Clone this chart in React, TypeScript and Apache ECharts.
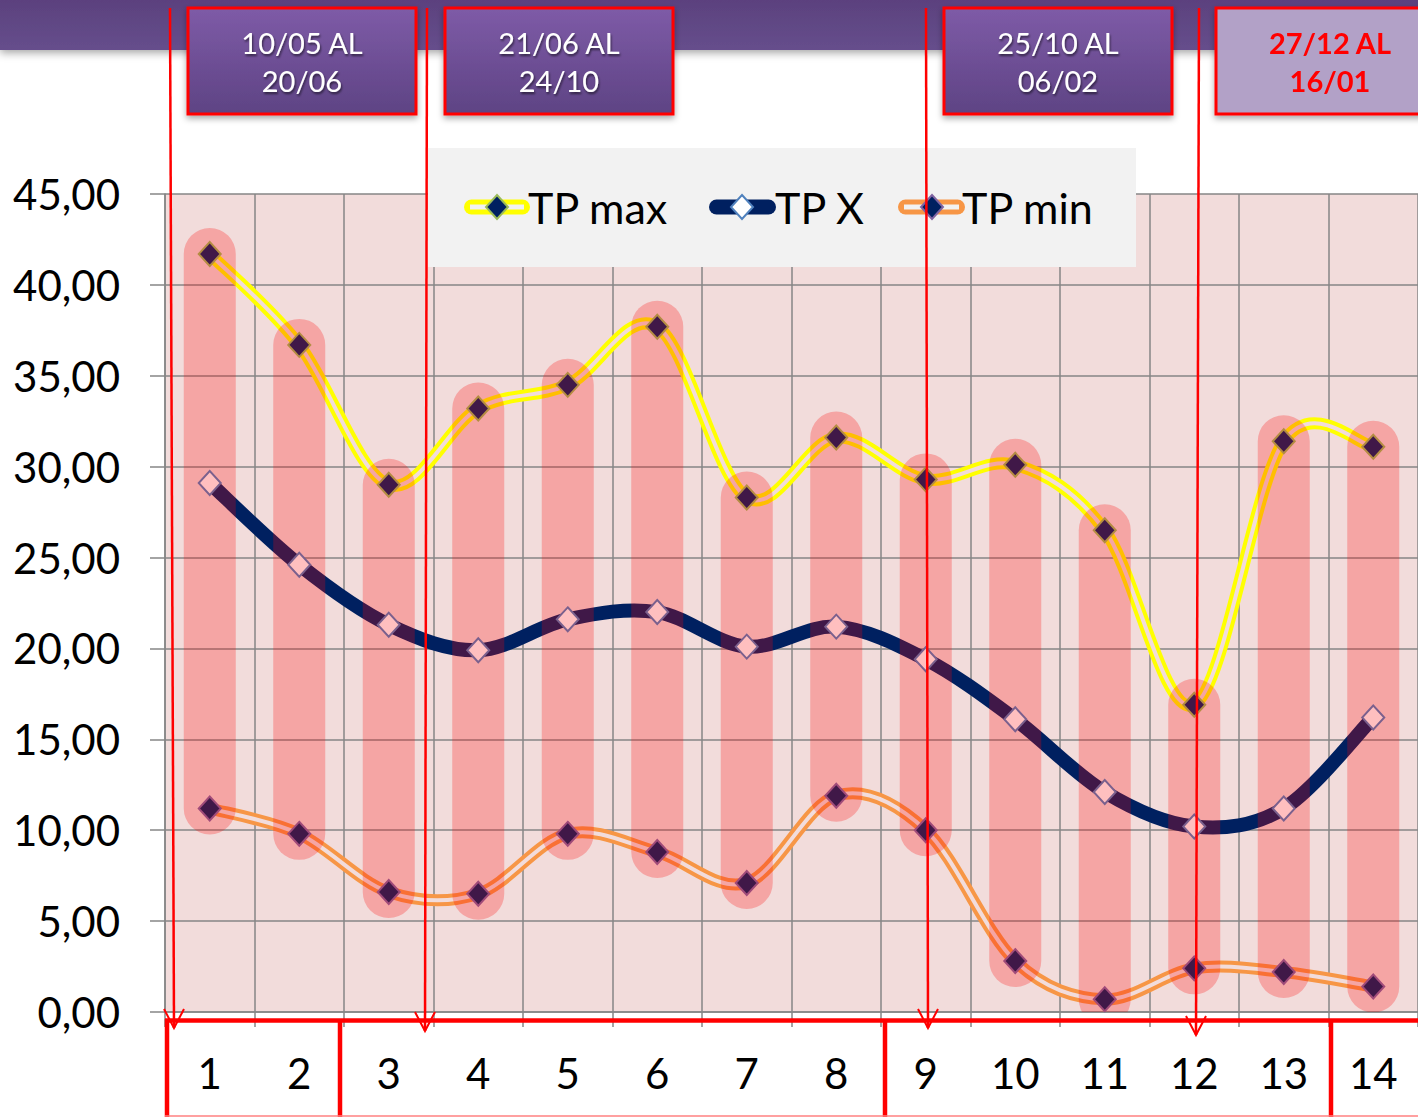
import React, { useEffect, useRef } from 'react';
import * as echarts from 'echarts';

const categories = ['1', '2', '3', '4', '5', '6', '7', '8', '9', '10', '11', '12', '13', '14'];
const tpMax = [41.7, 36.7, 29.0, 33.2, 34.5, 37.7, 28.3, 31.6, 29.3, 30.1, 26.5, 16.9, 31.4, 31.1];
const tpX = [29.1, 24.6, 21.3, 19.9, 21.6, 22.0, 20.1, 21.2, 19.4, 16.1, 12.1, 10.2, 11.2, 16.2];
const tpMin = [11.2, 9.8, 6.6, 6.5, 9.8, 8.8, 7.1, 11.9, 10.0, 2.8, 0.7, 2.4, 2.2, 1.4];
const seriesNames = ['TP max', 'TP X', 'TP min'];
const periodLabels = [
  ['10/05 AL', '20/06'],
  ['21/06 AL', '24/10'],
  ['25/10 AL', '06/02'],
  ['27/12 AL', '16/01'],
];

const FONT = 'Lato, "Open Sans", sans-serif';
const BG = '#f2dcdb';
const GRID = '#868686';

function diamond(cx: number, cy: number, fill: string, stroke: string, z: number) {
  return {
    type: 'polygon',
    z,
    shape: { points: [[cx, cy - 12], [cx + 11, cy], [cx, cy + 12], [cx - 11, cy]] },
    style: { fill, stroke, lineWidth: 2 },
  };
}

function buildGraphic() {
  const els: any[] = [];
  els.push({
    type: 'rect', z: 40,
    shape: { x: 0, y: 0, width: 1418, height: 50 },
    style: {
      fill: new echarts.graphic.LinearGradient(0, 0, 0, 1, [
        { offset: 0, color: '#5b417e' },
        { offset: 1, color: '#664e8c' },
      ]),
      shadowBlur: 8, shadowColor: 'rgba(0,0,0,0.35)', shadowOffsetY: 3,
    },
  });
  const boxes = [
    { x: 188, w: 228, cx: 302 },
    { x: 445, w: 228, cx: 559 },
    { x: 944, w: 228, cx: 1058 },
    { x: 1216, w: 220, cx: 1330 },
  ];
  boxes.forEach((b, i) => {
    const last = i === 3;
    els.push({
      type: 'rect', z: 60,
      shape: { x: b.x, y: 8, width: b.w, height: 106 },
      style: {
        fill: last
          ? '#b2a1c7'
          : new echarts.graphic.LinearGradient(0, 0, 0, 1, [
              { offset: 0, color: '#7e5ba7' },
              { offset: 1, color: '#5e4384' },
            ]),
        stroke: '#ff0000', lineWidth: 3,
        shadowBlur: 6, shadowColor: 'rgba(0,0,0,0.35)', shadowOffsetY: 3,
      },
    });
    periodLabels[i].forEach((t, k) => {
      els.push({
        type: 'text', z: 61,
        style: {
          text: t, x: b.cx, y: 42 + k * 38,
          align: 'center', verticalAlign: 'middle',
          font: `${last ? 'bold ' : ''}29px ${FONT}`,
          fill: last ? '#ff0000' : '#ffffff',
          textShadowColor: last ? 'rgba(0,0,0,0)' : 'rgba(0,0,0,0.55)',
          textShadowOffsetX: 1, textShadowOffsetY: 2, textShadowBlur: 2,
        },
      });
    });
  });

  // legend
  els.push({
    type: 'rect', z: 50,
    shape: { x: 428, y: 148, width: 708, height: 119 },
    style: { fill: '#f2f2f2' },
  });
  const ly = 207;
  els.push({ type: 'line', z: 51, shape: { x1: 471.5, y1: ly, x2: 522.5, y2: ly }, style: { stroke: '#ffff00', lineWidth: 15, lineCap: 'round' } });
  els.push({ type: 'line', z: 52, shape: { x1: 470, y1: ly, x2: 524, y2: ly }, style: { stroke: '#f2f2f2', lineWidth: 5 } });
  els.push(diamond(497, ly, '#002060', '#9bbb59', 53));
  els.push({ type: 'line', z: 51, shape: { x1: 716.5, y1: ly, x2: 768.5, y2: ly }, style: { stroke: '#002060', lineWidth: 15, lineCap: 'round' } });
  els.push(diamond(742, ly, '#ffffff', '#4f81bd', 53));
  els.push({ type: 'line', z: 51, shape: { x1: 905.5, y1: ly, x2: 957.5, y2: ly }, style: { stroke: '#f79646', lineWidth: 15, lineCap: 'round' } });
  els.push({ type: 'line', z: 52, shape: { x1: 904, y1: ly, x2: 959, y2: ly }, style: { stroke: '#f2f2f2', lineWidth: 5 } });
  els.push(diamond(932, ly, '#002060', '#8064a2', 53));
  const textX = [528, 775, 962];
  seriesNames.forEach((n, i) => {
    els.push({
      type: 'text', z: 54,
      style: { text: n, x: textX[i], y: ly, align: 'left', verticalAlign: 'middle', font: `43px ${FONT}`, fill: '#000000' },
    });
  });

  // red arrows
  const arrows = [
    { x1: 170, x2: 174, tip: 1028 },
    { x1: 427, x2: 425, tip: 1031 },
    { x1: 926, x2: 928, tip: 1028 },
    { x1: 1199, x2: 1196, tip: 1035 },
  ];
  arrows.forEach((a) => {
    els.push({ type: 'line', z: 100, shape: { x1: a.x1, y1: 8, x2: a.x2, y2: a.tip }, style: { stroke: '#ff0000', lineWidth: 2.5 } });
    els.push({
      type: 'polyline', z: 100,
      shape: { points: [[a.x2 - 10, a.tip - 19], [a.x2, a.tip], [a.x2 + 10, a.tip - 19]] },
      style: { stroke: '#ff0000', lineWidth: 2, fill: 'none' },
    });
  });

  els.push({ type: 'line', z: 95, shape: { x1: 165, y1: 1020.5, x2: 1418, y2: 1020.5 }, style: { stroke: '#ff0000', lineWidth: 4.5 } });
  [167, 340, 885, 1331].forEach((x) => {
    els.push({ type: 'line', z: 95, shape: { x1: x, y1: 1019, x2: x, y2: 1117 }, style: { stroke: '#ff0000', lineWidth: 4.5 } });
  });
  els.push({ type: 'line', z: 95, shape: { x1: 165, y1: 1116, x2: 1418, y2: 1116 }, style: { stroke: '#ff8080', lineWidth: 1.5 } });
  return els;
}

const barData = categories.map((_, i) => [i, tpMin[i], tpMax[i]]);

// Catmull-Rom style smoothing (like spreadsheet smoothed lines), built from pixel coords given by the axes
function smoothPath(pts: number[][]): string {
  let d = `M${pts[0][0]},${pts[0][1]}`;
  for (let i = 0; i < pts.length - 1; i++) {
    const p0 = pts[i - 1] || pts[i];
    const p1 = pts[i];
    const p2 = pts[i + 1];
    const p3 = pts[i + 2] || p2;
    const c1x = p1[0] + (p2[0] - p0[0]) / 6;
    const c1y = p1[1] + (p2[1] - p0[1]) / 6;
    const c2x = p2[0] - (p3[0] - p1[0]) / 6;
    const c2y = p2[1] - (p3[1] - p1[1]) / 6;
    d += ` C${c1x},${c1y} ${c2x},${c2y} ${p2[0]},${p2[1]}`;
  }
  return d;
}

function curveSeries(name: string, values: number[], layers: { color: string; width: number }[], z: number) {
  return {
    name, type: 'custom', z, silent: true,
    data: values.map((v, i) => [i, v]),
    encode: { x: 0, y: 1 },
    renderItem: (params: any, api: any) => {
      if (params.dataIndex !== 0) return null;
      const pts = values.map((v, i) => api.coord([i, v]));
      const d = smoothPath(pts);
      return {
        type: 'group',
        children: layers.map((l) => ({
          type: 'path',
          shape: { pathData: d },
          style: { fill: 'none', stroke: l.color, lineWidth: l.width, lineJoin: 'round', lineCap: 'round' },
        })),
      };
    },
  };
}

function markerSeries(name: string, values: number[], fill: string, border: string, z: number) {
  return {
    name, type: 'line', data: values, z, silent: true,
    symbol: 'diamond', symbolSize: [22, 24],
    lineStyle: { opacity: 0, width: 0 },
    itemStyle: { color: fill, borderColor: border, borderWidth: 2 },
  };
}

function makeOption(): any {
  return {
    animation: false,
    backgroundColor: '#ffffff',
    grid: {
      left: 165, right: 0, top: 194, bottom: 105,
      show: true, backgroundColor: BG, borderWidth: 0,
    },
    xAxis: {
      type: 'category',
      data: categories,
      boundaryGap: true,
      axisLine: { show: true, lineStyle: { color: GRID, width: 1.5 } },
      axisTick: { show: true, length: 15, interval: 0, lineStyle: { color: GRID, width: 1.5 } },
      splitLine: { show: true, interval: 0, lineStyle: { color: GRID, width: 1.5 } },
      axisLabel: { fontSize: 42, fontFamily: FONT, color: '#000000', margin: 40, interval: 0 },
    },
    yAxis: {
      type: 'value',
      min: 0, max: 45, interval: 5,
      axisLine: { show: true, lineStyle: { color: GRID, width: 1.5 } },
      axisTick: { show: true, length: 15, lineStyle: { color: GRID, width: 1.5 } },
      splitLine: { show: true, lineStyle: { color: GRID, width: 1.5 } },
      axisLabel: {
        fontSize: 42, fontFamily: FONT, color: '#000000', margin: 45,
        formatter: (v: number) => v.toFixed(2).replace('.', ','),
      },
    },
    series: [
      curveSeries(seriesNames[0], tpMax, [{ color: '#ffff00', width: 12 }, { color: BG, width: 4 }], 2),
      curveSeries(seriesNames[1], tpX, [{ color: '#002060', width: 14 }], 2),
      curveSeries(seriesNames[2], tpMin, [{ color: '#f79646', width: 12 }, { color: BG, width: 4 }], 2),
      markerSeries(seriesNames[0], tpMax, '#002060', '#9bbb59', 4),
      markerSeries(seriesNames[1], tpX, '#ffffff', '#4f81bd', 4),
      markerSeries(seriesNames[2], tpMin, '#002060', '#8064a2', 4),
      {
        name: 'range', type: 'custom', z: 10, clip: true, silent: true,
        data: barData,
        encode: { x: 0, y: [1, 2] },
        renderItem: (params: any, api: any) => {
          const idx = api.value(0);
          const lo = api.value(1);
          const hi = api.value(2);
          const top = api.coord([idx, hi]);
          const bot = api.coord([idx, lo]);
          const w = 52;
          const r = 26;
          return {
            type: 'rect',
            shape: { x: top[0] - w / 2, y: top[1] - r, width: w, height: bot[1] - top[1] + 2 * r, r },
            style: { fill: 'rgba(255,0,0,0.25)' },
          };
        },
      },
    ],
    graphic: { elements: buildGraphic() },
  };
}

export default function App() {
  const ref = useRef<HTMLDivElement>(null);
  useEffect(() => {
    if (!ref.current) return;
    const chart = echarts.init(ref.current, null, { renderer: 'svg' });
    chart.setOption(makeOption());
    return () => chart.dispose();
  }, []);
  return (
    <div
      ref={ref}
      style={{ position: 'fixed', left: 0, top: 0, width: 1418, height: 1117, background: '#ffffff' }}
    />
  );
}
